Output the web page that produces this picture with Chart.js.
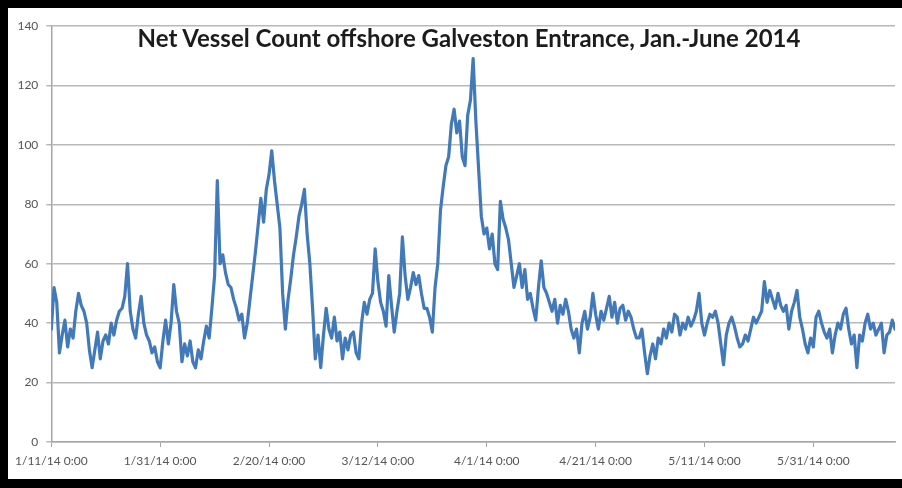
<!DOCTYPE html>
<html>
<head>
<meta charset="utf-8">
<title>Net Vessel Count offshore Galveston Entrance</title>
<script src="https://cdn.jsdelivr.net/npm/chart.js@4.4.1/dist/chart.umd.min.js"></script>
<style>
  html, body { margin: 0; padding: 0; width: 902px; height: 488px; overflow: hidden; background: #000; }
  #frame { position: absolute; left: 8px; top: 8px; width: 894px; height: 471px; background: #fff; }
  #chart { position: absolute; left: 0; top: 0; }
  #title {
    position: absolute; left: 14px; top: 18px; width: 894px; text-align: center;
    font-family: Lato, "Open Sans", sans-serif; font-weight: bold; font-size: 24px;
    color: #1c1c1c; line-height: 1; white-space: nowrap;
  }
</style>
</head>
<body>
<div id="frame">
  <canvas id="chart" width="894" height="471"></canvas>
  <div id="title">Net Vessel Count offshore Galveston Entrance, Jan.-June 2014</div>
</div>
<script>
// Date axis labels, one every 20 days starting 1/11/14
const tickLabels = ['1/11/14 0:00', '1/31/14 0:00', '2/20/14 0:00', '3/12/14 0:00',
                    '4/1/14 0:00', '4/21/14 0:00', '5/11/14 0:00', '5/31/14 0:00'];
const tickDays = [0, 20, 40, 60, 80, 100, 120, 140];

// Readings are taken every 12 hours (0.5 day) from 1/11/14 0:00
const sampleStepDays = 0.5;

// Net vessel count, two readings per day
const vesselCount = [
  38,52, 47,30, 36,41, 32,38, 35,44, 50,46, 44,40, 31,25, 31,37, 28,34,
  36,33, 40,36, 41,44, 45,49, 60,44, 38,35, 43,49, 40,36, 34,30, 32,27,
  25,34, 41,33, 40,53, 44,40, 27,33, 29,34, 27,25, 31,28, 34,39, 35,45,
  56,88, 60,63, 57,53, 52,48, 45,41, 43,35, 40,48, 56,64, 73,82, 74,85,
  90,98, 88,80, 72,50, 38,48, 55,63, 69,76, 80,85, 70,60, 45,28, 36,25,
  36,45, 38,35, 42,34, 37,28, 35,31, 36,37, 30,28, 40,47, 43,48, 50,65,
  54,47, 44,39, 56,46, 37,44, 50,69, 56,48, 52,57, 53,56, 50,45, 45,42,
  37,52, 60,78, 86,93, 96,107, 112,104, 108,96, 93,110, 115,129, 108,92, 76,70,
  72,65, 70,60, 58,81, 75,72, 68,60, 52,56, 60,52, 58,48, 50,45, 41,52,
  61,52, 50,47, 44,48, 40,46, 43,48, 44,38, 35,38, 30,40, 44,38, 42,50,
  43,38, 44,41, 45,49, 42,47, 40,45, 46,41, 44,42, 38,35, 35,38, 30,23,
  29,33, 28,35, 33,38, 35,40, 37,43, 42,36, 40,38, 42,39, 41,44, 50,40,
  36,40, 43,42, 44,40, 33,26, 36,40, 42,39, 35,32, 33,36, 34,38, 42,40,
  42,44, 54,47, 51,48, 45,50, 46,44, 46,38, 44,47, 51,42, 38,33, 30,35,
  32,42, 44,40, 37,35, 38,30, 36,40, 38,43, 45,38, 33,36, 25,36, 34,40,
  43,38, 40,36, 38,40, 30,36, 37,41, 38
];

const points = vesselCount.map((v, i) => ({ x: i * sampleStepDays, y: v }));
const lastDay = (vesselCount.length - 1) * sampleStepDays;

const axisGrey = '#a6a6a6';
const labelFont = { family: 'Lato, "Open Sans", sans-serif', size: 12 };

new Chart(document.getElementById('chart'), {
  type: 'line',
  data: {
    datasets: [{
      label: 'Net Vessel Count',
      data: points,
      borderColor: '#4279b9',
      borderWidth: 3.2,
      borderJoinStyle: 'round',
      borderCapStyle: 'round',
      pointRadius: 0,
      tension: 0,
      fill: false
    }]
  },
  options: {
    responsive: false,
    animation: false,
    layout: { padding: { top: 18, right: 7, left: 0, bottom: 0 } },
    plugins: { legend: { display: false }, tooltip: { enabled: false }, title: { display: false } },
    scales: {
      x: {
        type: 'linear',
        min: 0,
        max: lastDay,
        afterBuildTicks: (scale) => { scale.ticks = tickDays.map(v => ({ value: v })); },
        afterFit: (scale) => { scale.height = 37; },
        ticks: {
          autoSkip: false,
          maxRotation: 0,
          padding: 7,
          color: '#555',
          font: labelFont,
          callback: (value, index) => tickLabels[index]
        },
        grid: { drawOnChartArea: false, drawTicks: true, tickLength: 5, color: axisGrey },
        border: { display: true, color: axisGrey, width: 1.5 }
      },
      y: {
        min: 0,
        max: 140,
        afterFit: (scale) => { scale.width = 42; },
        ticks: { stepSize: 20, padding: 8, color: '#555', font: labelFont },
        grid: { color: '#b8b8b8', lineWidth: 1.5, tickLength: 5 },
        border: { display: true, color: axisGrey, width: 1.5 }
      }
    }
  }
});
</script>
</body>
</html>
